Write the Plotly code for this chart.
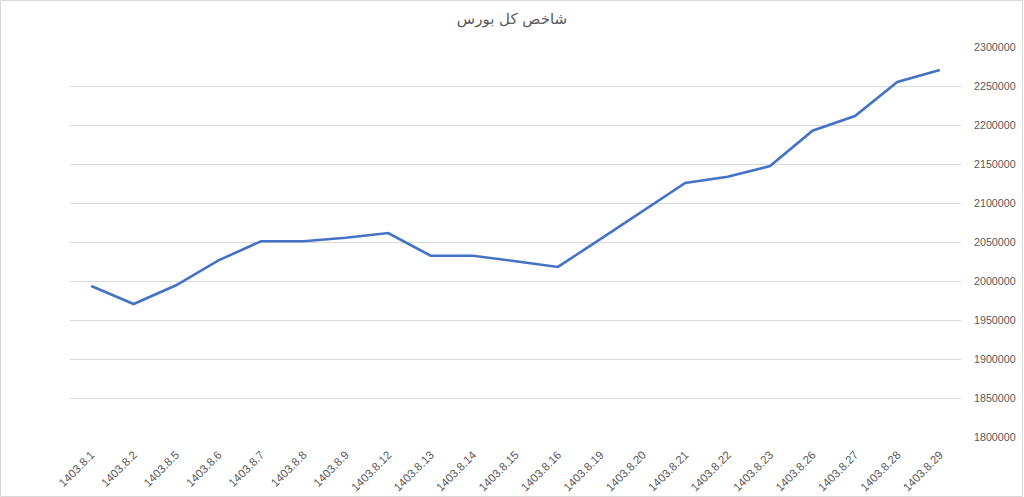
import plotly.graph_objects as go

dates = ["1403.8.1", "1403.8.2", "1403.8.5", "1403.8.6", "1403.8.7", "1403.8.8", "1403.8.9",
         "1403.8.12", "1403.8.13", "1403.8.14", "1403.8.15", "1403.8.16", "1403.8.19",
         "1403.8.20", "1403.8.21", "1403.8.22", "1403.8.23", "1403.8.26", "1403.8.27",
         "1403.8.28", "1403.8.29"]
index_values = [1993600, 1970500, 1994500, 2026400, 2051000, 2051000, 2055500,
                2061500, 2032400, 2032400, 2025300, 2018000, 2053800,
                2089700, 2125600, 2133700, 2147400, 2192700, 2211500,
                2255100, 2270500]
y_ticks = list(range(1800000, 2300001, 50000))
title_text = "شاخص کل بورس"

fig = go.Figure()
fig.add_trace(go.Scatter(
    x=dates, y=index_values, mode="lines",
    line=dict(color="#4472C4", width=2.6),
    hoverinfo="x+y",
))

fig.update_layout(
    width=1024, height=497,
    margin=dict(l=70, r=63, t=47, b=60, autoexpand=False),
    paper_bgcolor="white", plot_bgcolor="white",
    showlegend=False,
    title=dict(text=title_text, x=0.5, xanchor="center", y=0.962, yanchor="middle",
               font=dict(family="DejaVu Sans, Liberation Sans", size=15, color="#595959")),
    font=dict(family="Liberation Sans, DejaVu Sans", size=11, color="#595959"),
)
fig.update_xaxes(
    type="category", tickangle=-45, showgrid=False, showline=False, zeroline=False,
    ticks="", tickfont=dict(size=11.5, color="#595959"), range=[-0.5, len(dates) - 0.5],
    ticklabelstandoff=8, automargin=False,
)
fig.update_yaxes(
    side="right", range=[1800000, 2300000], tickvals=y_ticks,
    ticktext=[str(v) for v in y_ticks], showgrid=True, gridcolor="#d9d9d9", gridwidth=1,
    zeroline=False, showline=False, ticks="", tickfont=dict(size=10.7, color="#595959"),
    ticklabelstandoff=12, automargin=False,
)
fig.add_shape(type="rect", xref="paper", yref="paper",
              x0=(0.5 - 70) / 891, x1=(1022.5 - 70) / 891,
              y0=(437 - 496.5) / 390, y1=(437 - 0.5) / 390,
              line=dict(color="#d9d9d9", width=1), fillcolor="rgba(0,0,0,0)", layer="below")

fig.write_html("out.html", config={"displayModeBar": False},
               post_script="document.body.style.margin='0';document.body.style.overflow='hidden';")
